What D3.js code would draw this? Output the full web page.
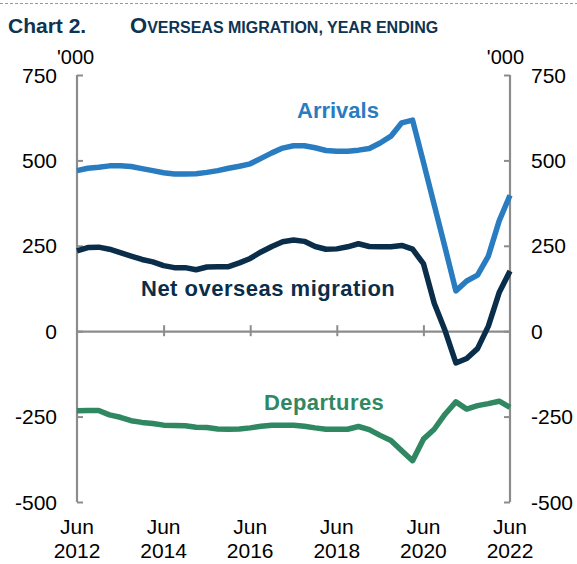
<!DOCTYPE html>
<html>
<head>
<meta charset="utf-8">
<script src="https://cdn.jsdelivr.net/npm/d3@7/dist/d3.min.js"></script>
<style>
  html, body { margin: 0; padding: 0; background: #fff; }
  svg { display: block; }
  text { font-family: "Liberation Sans", Arial, sans-serif; }
</style>
</head>
<body>
<script>
// Quarter-ending periods, Jun 2012 to Jun 2022
const quarters = [
  "Jun-2012","Sep-2012","Dec-2012","Mar-2013","Jun-2013","Sep-2013","Dec-2013","Mar-2014",
  "Jun-2014","Sep-2014","Dec-2014","Mar-2015","Jun-2015","Sep-2015","Dec-2015","Mar-2016",
  "Jun-2016","Sep-2016","Dec-2016","Mar-2017","Jun-2017","Sep-2017","Dec-2017","Mar-2018",
  "Jun-2018","Sep-2018","Dec-2018","Mar-2019","Jun-2019","Sep-2019","Dec-2019","Mar-2020",
  "Jun-2020","Sep-2020","Dec-2020","Mar-2021","Jun-2021","Sep-2021","Dec-2021","Mar-2022",
  "Jun-2022"
];
const arrivals = [
  470, 477, 480, 484, 484, 482, 476, 470, 464, 460, 460, 461, 465, 470, 477, 483,
  490, 506, 522, 536, 543, 543, 537, 529, 527, 527, 530, 535, 551, 571, 610, 618,
  495, 370, 245, 118, 147, 164, 220, 323, 398
];
const netMigration = [
  235, 245, 246, 240, 230, 220, 210, 203, 192, 186, 186, 180, 188, 189, 189, 200,
  213, 232, 248, 262, 267, 263, 248, 240, 241, 247, 256, 248, 247, 247, 251, 240,
  198, 82, 2, -93, -80, -51, 15, 113, 176
];
const departures = [
  -233, -232, -232, -245, -252, -262, -267, -270, -275, -276, -277, -281, -282, -286, -287, -286,
  -283, -278, -275, -275, -275, -278, -283, -287, -287, -287, -279, -288, -305, -320, -350, -379,
  -316, -287, -243, -207, -228, -218, -212, -205, -223
];
const yTicks = [-500, -250, 0, 250, 500, 750];
const xTickQuarters = ["Jun-2012","Jun-2014","Jun-2016","Jun-2018","Jun-2020","Jun-2022"];
const xTickLabels = [["Jun","2012"],["Jun","2014"],["Jun","2016"],["Jun","2018"],["Jun","2020"],["Jun","2022"]];

const W = 577, H = 564;
const svg = d3.select("body").append("svg").attr("width", W).attr("height", H);

const x = d3.scalePoint().domain(quarters).range([77, 510]);
const y = d3.scaleLinear().domain([-500, 750]).range([502, 75]);

const axisColor = "#8c8c8c";
const cArr = "#2a7cc1", cNet = "#0a2d4a", cDep = "#2f8862", cTitle = "#0d3452";

// top dashed rule
svg.append("line").attr("x1", 0).attr("x2", W).attr("y1", 3.5).attr("y2", 3.5)
  .attr("stroke", "#9a9a9a").attr("stroke-width", 1).attr("stroke-dasharray", "3,2");

// title
svg.append("text").attr("x", 8).attr("y", 33).attr("fill", cTitle)
  .attr("font-size", 21).attr("font-weight", "bold").text("Chart 2.");
const t2 = svg.append("text").attr("x", 130).attr("y", 33).attr("fill", cTitle).attr("font-weight", "bold");
t2.append("tspan").attr("font-size", 22).text("O");
t2.append("tspan").attr("font-size", 16).text("VERSEAS MIGRATION, YEAR ENDING");

// left axis
const gL = svg.append("g").attr("transform", "translate(77,0)");
gL.call(d3.axisRight(y).tickValues(yTicks).tickSize(6).tickFormat(""));
gL.select(".domain").attr("stroke", axisColor).attr("stroke-width", 2.2).attr("d", `M0,${y(750)}V${y(-500)}`);
gL.selectAll(".tick line").attr("stroke", axisColor).attr("stroke-width", 2);
yTicks.forEach(v => {
  svg.append("text").attr("x", 57).attr("y", y(v)).attr("dy", "0.36em")
    .attr("text-anchor", "end").attr("font-size", 21).attr("fill", "#000").text(v);
});
// right axis
const gR = svg.append("g").attr("transform", "translate(510,0)");
gR.call(d3.axisLeft(y).tickValues(yTicks).tickSize(6).tickFormat(""));
gR.select(".domain").attr("stroke", axisColor).attr("stroke-width", 2.2).attr("d", `M0,${y(750)}V${y(-500)}`);
gR.selectAll(".tick line").attr("stroke", axisColor).attr("stroke-width", 2);
yTicks.forEach(v => {
  svg.append("text").attr("x", 531).attr("y", y(v)).attr("dy", "0.36em")
    .attr("text-anchor", "start").attr("font-size", 21).attr("fill", "#000").text(v);
});
// unit labels
svg.append("text").attr("x", 57).attr("y", 64).attr("font-size", 20).attr("fill", "#000").text("'000");
svg.append("text").attr("x", 524).attr("y", 64).attr("text-anchor", "end").attr("font-size", 20).attr("fill", "#000").text("'000");

// x axis at zero
const gX = svg.append("g").attr("transform", `translate(0,${y(0)})`);
gX.call(d3.axisBottom(x).tickValues(xTickQuarters).tickSize(0).tickFormat(""));
gX.select(".domain").attr("stroke", axisColor).attr("stroke-width", 2.2);
gX.selectAll(".tick line").attr("stroke", axisColor).attr("stroke-width", 2).attr("y1", -6).attr("y2", 5);
gX.selectAll(".tick").filter((d, i) => i === 0 || i === xTickQuarters.length - 1).select("line").remove();

// x labels
xTickQuarters.forEach((q, i) => {
  const t = svg.append("text").attr("x", x(q)).attr("text-anchor", "middle").attr("font-size", 21).attr("fill", "#000");
  t.append("tspan").attr("x", x(q)).attr("y", 534).text(xTickLabels[i][0]);
  t.append("tspan").attr("x", x(q)).attr("y", 558).text(xTickLabels[i][1]);
});

// lines
const line = d3.line().x((d, i) => x(quarters[i])).y(d => y(d)).curve(d3.curveLinear);
[[arrivals, cArr], [netMigration, cNet], [departures, cDep]].forEach(([s, c]) => {
  svg.append("path").datum(s).attr("d", line).attr("fill", "none")
    .attr("stroke", c).attr("stroke-width", 5.5).attr("stroke-linejoin", "round").attr("stroke-linecap", "butt");
});

// series labels
svg.append("text").attr("x", 297).attr("y", 118).attr("font-size", 22).attr("font-weight", "bold")
  .attr("fill", cArr).text("Arrivals");
svg.append("text").attr("x", 141).attr("y", 296).attr("font-size", 22).attr("font-weight", "bold")
  .attr("letter-spacing", 0.5).attr("fill", cNet).text("Net overseas migration");
svg.append("text").attr("x", 264).attr("y", 410).attr("font-size", 22).attr("font-weight", "bold")
  .attr("letter-spacing", 0.4).attr("fill", cDep).text("Departures");
</script>
</body>
</html>
